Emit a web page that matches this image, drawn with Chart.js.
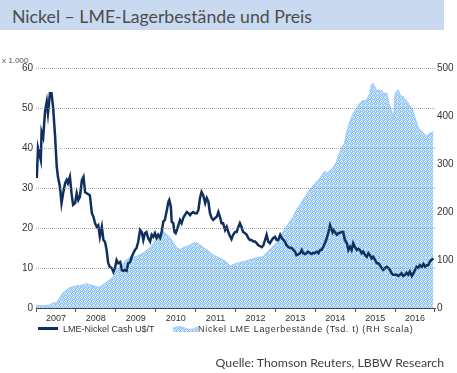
<!DOCTYPE html>
<html><head><meta charset="utf-8">
<script src="https://cdn.jsdelivr.net/npm/chart.js@4"></script>
<style>
html,body{margin:0;padding:0;background:#fff;width:457px;height:373px;overflow:hidden;}
#wrap{position:relative;width:457px;height:373px;}
#c{position:absolute;left:0;top:0;}
.t{position:absolute;white-space:nowrap;line-height:1;}
</style></head><body>
<div id="wrap">
<div style="position:absolute;left:0;top:0;width:444px;height:30px;background:#c9d9f0;"></div>
<div class="t" id="title" style="left:12px;top:6px;font:17.7px Lato, 'Open Sans', sans-serif;color:#4d4d4d;">Nickel – LME-Lagerbestände und Preis</div>
<div class="t" style="left:2px;top:56px;font:8px 'Liberation Sans', Arial, sans-serif;color:#555;">x 1.000</div>
<canvas id="c" width="457" height="373" style="width:457px;height:373px;"></canvas>
<div style="position:absolute;left:38px;top:327px;width:20px;height:3px;background:#0f2f5c;"></div>
<div class="t" style="left:63px;top:324px;font:9px 'Liberation Sans', Arial, sans-serif;color:#333;">LME-Nickel Cash U$/T</div>
<canvas id="sw" width="25" height="7" style="position:absolute;left:173px;top:325px;"></canvas>
<div class="t" style="left:198px;top:324px;font:9px 'Liberation Sans', Arial, sans-serif;color:#333;letter-spacing:0.7px;">Nickel LME Lagerbestände (Tsd. t) (RH Scala)</div>
<div class="t" style="right:13px;top:355px;font:12.3px Lato, 'Open Sans', sans-serif;color:#404040;">Quelle: Thomson Reuters, LBBW Research</div>
</div>
<script>
// ---- data ----
const yearLabels = ['2007','2008','2009','2010','2011','2012','2013','2014','2015','2016'];
const leftTicks = [0,10,20,30,40,50,60];
const rightTicks = [0,100,200,300,400,500];

const priceDates = [2007.02,2007.05,2007.12,2007.14,2007.18,2007.23,2007.27,2007.30,2007.35,2007.39,2007.43,2007.48,2007.52,2007.55,2007.60,2007.64,2007.68,2007.73,2007.77,2007.80,2007.85,2007.89,2007.93,2007.98,
2008.02,2008.06,2008.10,2008.15,2008.19,2008.23,2008.27,2008.35,2008.40,2008.44,2008.48,2008.52,2008.56,2008.60,2008.65,2008.69,2008.73,2008.77,2008.81,2008.85,2008.90,2008.94,2008.98,
2009.02,2009.06,2009.11,2009.15,2009.19,2009.23,2009.27,2009.31,2009.36,2009.40,2009.44,2009.48,2009.52,2009.56,2009.61,2009.65,2009.69,2009.73,2009.77,2009.81,2009.86,2009.90,2009.94,2009.98,
2010.02,2010.06,2010.11,2010.15,2010.19,2010.23,2010.28,2010.32,2010.34,2010.38,2010.40,2010.44,2010.47,2010.50,2010.53,2010.57,2010.61,2010.65,2010.69,2010.73,2010.78,2010.82,2010.86,2010.90,2010.94,2010.98,
2011.03,2011.07,2011.11,2011.15,2011.19,2011.24,2011.28,2011.32,2011.36,2011.40,2011.44,2011.49,2011.53,2011.57,2011.61,2011.65,2011.69,2011.74,2011.78,2011.82,2011.86,2011.90,2011.94,2011.99,
2012.03,2012.07,2012.11,2012.15,2012.19,2012.24,2012.28,2012.32,2012.36,2012.40,2012.45,2012.49,2012.53,2012.57,2012.61,2012.66,2012.70,2012.74,2012.78,2012.82,2012.86,2012.91,2012.95,2012.99,
2013.03,2013.07,2013.12,2013.16,2013.20,2013.24,2013.28,2013.32,2013.37,2013.41,2013.45,2013.49,2013.53,2013.57,2013.62,2013.66,2013.70,2013.74,2013.78,2013.82,2013.87,2013.91,2013.95,2013.99,
2014.04,2014.08,2014.12,2014.16,2014.20,2014.24,2014.29,2014.33,2014.37,2014.43,2014.45,2014.49,2014.54,2014.58,2014.62,2014.66,2014.70,2014.74,2014.79,2014.83,2014.87,2014.91,2014.95,2014.99,
2015.04,2015.08,2015.12,2015.16,2015.20,2015.25,2015.29,2015.33,2015.37,2015.41,2015.45,2015.50,2015.54,2015.58,2015.62,2015.66,2015.70,2015.75,2015.79,2015.83,2015.87,2015.91,2015.95,
2016.00,2016.04,2016.08,2016.12,2016.16,2016.20,2016.25,2016.29,2016.33,2016.37,2016.42,2016.46,2016.50,2016.54,2016.58,2016.62,2016.67,2016.71,2016.75,2016.79,2016.83,2016.87,2016.91,2016.96];
const priceValues = [32.5,40,37,44,42.7,49.5,51.6,48.7,53.7,53.7,50,42.7,35.3,32.8,30.3,26.2,28.7,31.2,32,31.2,32.8,28.7,25.8,26.2,
28.7,27,27.8,32,32.8,29,28.7,28.2,23.7,22.8,21.2,20.3,20.7,17.8,20.3,17,16.5,14.5,11.2,10.3,10,9,10,
12,11.2,11.5,9.5,9.3,9.5,9.3,11.2,11.5,12.8,13.7,14.5,15,16.5,19.5,19,17,18.7,19,17.5,16.6,18.3,17.8,18.7,
17.5,18.3,17.5,19,21.6,22,24.5,26.6,27,25.3,21.6,21.2,19,18.7,19.5,20.7,22,21.2,22.5,23.2,24,23.7,23.2,23.7,24,23.7,
23.7,24.5,27.5,29,28.2,26.2,27.5,26.6,23.7,22.5,22,22.5,22.8,24,22.8,21.2,21.2,19.5,20.3,19,18,17.2,18.3,19,
19,20.2,21.2,20.3,19,18.7,18.3,17.5,17,17,16.6,16.6,16.2,15.7,15.5,15.2,15.7,17,18.3,16.6,16.2,17,17.5,17.8,
17,17,18.3,17.5,17,16.6,15.7,15.3,15,15,14.5,14.1,13.2,13.4,13.7,14.5,13.7,13.5,13.7,14.1,13.7,13.5,13.8,13.7,
14.1,13.7,14.5,14.6,15.3,16.2,17.5,19,20.7,19,19.5,19,18.3,18.7,18.8,19,19,17,16.2,14.5,15.3,14.5,16.2,15.3,
14.5,14.8,14.5,13.7,14.1,13.2,12.8,13.7,13.2,12.4,12.8,12,11.2,11.2,10.7,10,9.5,10,10.3,10,9.5,8.7,8.3,
8.3,8.3,8,8.3,8.7,8,8.3,8.8,8.3,9.1,8,8.7,9.5,10.3,10,10.7,10.3,11,10.3,10.7,10.7,11.6,12,12.4];

const stockDates = [2007.00,2007.18,2007.35,2007.43,2007.52,2007.60,2007.68,2007.77,2007.85,2007.93,
2008.02,2008.10,2008.19,2008.27,2008.35,2008.44,2008.52,2008.60,2008.69,2008.77,2008.85,2008.94,
2009.02,2009.11,2009.19,2009.27,2009.36,2009.52,2009.69,2009.86,
2010.02,2010.11,2010.15,2010.19,2010.28,2010.36,2010.44,2010.53,2010.61,2010.69,2010.78,2010.86,2010.94,
2011.03,2011.11,2011.19,2011.28,2011.36,2011.44,2011.53,2011.61,2011.69,2011.78,2011.86,2011.94,
2012.03,2012.19,2012.36,2012.53,2012.70,2012.78,2012.86,2012.95,
2013.03,2013.12,2013.20,2013.28,2013.37,2013.45,2013.53,2013.62,2013.70,2013.78,2013.87,2013.95,
2014.04,2014.12,2014.20,2014.24,2014.29,2014.37,2014.45,2014.54,2014.58,2014.66,2014.74,2014.79,2014.87,2014.95,
2015.04,2015.12,2015.20,2015.29,2015.33,2015.37,2015.41,2015.45,2015.50,2015.54,2015.58,2015.62,2015.66,2015.70,2015.79,2015.83,2015.87,2015.91,2015.95,2015.98,
2016.00,2016.04,2016.08,2016.12,2016.16,2016.20,2016.25,2016.29,2016.33,2016.37,2016.42,2016.46,2016.50,2016.54,2016.58,2016.62,2016.67,2016.71,2016.75,2016.79,2016.83,2016.87,2016.91,2016.96];
const stockValues = [5,4,6,10,11,21,31,37.5,41.7,44,
46,46,48,50,48,46,44,43,48,53,58,65,
79,86,92,100,105,107,114,125,
142,156,162,159,152,146,135,125,121,125,128,131,135,
135,131,125,121,115,110,107,104,100,94,86,90,
93,96,100,104,107,114,121,128,
135,146,159,169,180,190,204,215,225,235,246,254,
263,270,280,284,279,286,292,305,315,333,344,367,388,405,
416,426,432,432,440,446,465,467,458,451,454,451,453,447,447,430,419,409,395,412,
444,451,453,444,440,440,433,430,426,419,416,405,395,385,374,371,367,364,360,357,360,364,364,367];

// ---- pattern fill ----
function makePattern(ctx){
  const p = document.createElement('canvas'); p.width = 4; p.height = 4;
  const g = p.getContext('2d');
  const tile = ['BWBB','WBWB','BWBB','BBBW'];
  for (let r=0;r<4;r++) for (let c=0;c<4;c++){
    g.fillStyle = tile[r][c]==='B' ? '#94c8f7' : '#e6f2fd';
    g.fillRect(c,r,1,1);
  }
  return ctx.createPattern(p,'repeat');
}
const ctx = document.getElementById('c').getContext('2d');
const pat = makePattern(ctx);

// legend swatch
(function(){
  const s = document.getElementById('sw').getContext('2d');
  s.fillStyle = makePattern(s);
  s.beginPath(); s.moveTo(0,3); s.quadraticCurveTo(6,0,12,3); s.quadraticCurveTo(18,6,25,2); s.lineTo(25,7); s.lineTo(0,7); s.closePath(); s.fill();
  s.strokeStyle='#a3cff7'; s.lineWidth=1; s.beginPath(); s.moveTo(0,3); s.quadraticCurveTo(6,0,12,3); s.quadraticCurveTo(18,6,25,2); s.stroke();
})();

const pricePts = priceDates.map((d,i)=>({x:d,y:priceValues[i]}));
const stockPts = stockDates.map((d,i)=>({x:d,y:stockValues[i]}));
const tickFont = {family:"'Liberation Sans', Arial, sans-serif", size:10};

new Chart(ctx, {
  type:'line',
  data:{ datasets:[
    {label:'LME-Nickel Cash U$/T', data:pricePts, xAxisID:'x', yAxisID:'y',
     borderColor:'#0f2f5c', borderWidth:2.5, pointRadius:0, tension:0, fill:false},
    {label:'Nickel LME Lagerbestände (Tsd. t) (RH Scala)', data:stockPts, xAxisID:'x', yAxisID:'y2',
     borderColor:'#a3cff7', borderWidth:1.5, backgroundColor:pat, pointRadius:0, tension:0, fill:'origin'}
  ]},
  options:{
    responsive:false, animation:false, devicePixelRatio:1,
    layout:{padding:{left:0,right:0,top:68,bottom:49}},
    plugins:{legend:{display:false}, tooltip:{enabled:false}},
    scales:{
      x:{type:'linear', display:false, min:2007, max:2017},
      xYears:{type:'category', labels:yearLabels, position:'bottom', offset:true,
        grid:{display:true, offset:true, drawOnChartArea:false, drawTicks:true, tickLength:4, tickColor:'#555', color:'#555'},
        border:{display:true, color:'#444', width:1},
        ticks:{font:{family:"'Liberation Sans', Arial, sans-serif", size:9}, color:'#333', padding:1, maxRotation:0, autoSkip:false},
        afterFit:(s)=>{s.height=16;}},
      y:{position:'left', min:0, max:60, afterBuildTicks:(s)=>{s.ticks=leftTicks.map(v=>({value:v}));},
        grid:{color:(c)=>c.tick && c.tick.value===0 ? 'rgba(0,0,0,0)' : 'rgba(140,140,140,0.75)', drawTicks:false, lineWidth:1, z:1},
        border:{display:false, dash:[1,1]},
        ticks:{font:tickFont, color:'#333', padding:3},
        afterFit:(s)=>{s.width=36;}},
      y2:{position:'right', min:0, max:500, afterBuildTicks:(s)=>{s.ticks=rightTicks.map(v=>({value:v}));},
        grid:{display:false, drawOnChartArea:false, drawTicks:false, tickLength:0},
        border:{display:false},
        ticks:{font:tickFont, color:'#333', padding:2},
        afterFit:(s)=>{s.width=22;}}
    }
  }
});
</script>
</body></html>
